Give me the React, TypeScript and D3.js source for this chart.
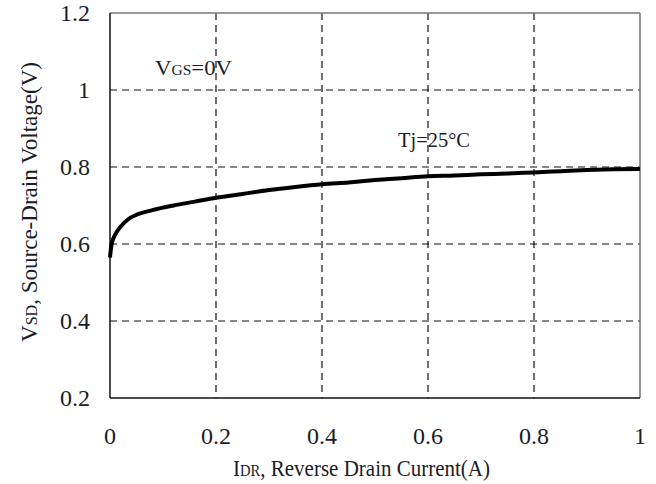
import * as d3 from 'd3';

// reverse drain current (A) vs source-drain voltage (V), Tj=25C
const currentA = [0, 0.003, 0.01, 0.02, 0.035, 0.05, 0.08, 0.12, 0.16, 0.2, 0.25, 0.3, 0.35, 0.4, 0.45, 0.5, 0.55, 0.6, 0.65, 0.7, 0.75, 0.8, 0.85, 0.9, 0.95, 1.0];
const vsdV = [0.565, 0.6, 0.625, 0.645, 0.665, 0.676, 0.688, 0.7, 0.71, 0.72, 0.73, 0.74, 0.748, 0.755, 0.76, 0.766, 0.771, 0.776, 0.778, 0.781, 0.783, 0.786, 0.789, 0.792, 0.794, 0.795];

const xTicks = [0, 0.2, 0.4, 0.6, 0.8, 1];
const yTicks = [0.2, 0.4, 0.6, 0.8, 1, 1.2];

const W = 656;
const H = 484;
const FONT = '"Liberation Serif", "DejaVu Serif", serif';
const INK = '#1c1c28';
const txt = { fontFamily: FONT };

export default function App() {
  const x = d3.scaleLinear().domain([0, 1]).range([110, 640]);
  const y = d3.scaleLinear().domain([0.2, 1.2]).range([398, 13]);

  const pts: [number, number][] = currentA.map((c, i) => [c, vsdV[i]]);
  const line = d3.line<[number, number]>()
    .x(d => x(d[0]))
    .y(d => y(d[1]))
    .curve(d3.curveMonotoneX);

  const [x0, x1] = x.range();
  const [y0, y1] = y.range();

  return (
    <svg width={W} height={H} style={{ position: 'absolute', left: 0, top: 0, background: '#fff' }}>
      {/* dashed grid */}
      {yTicks.filter(t => t > 0.2 && t < 1.2).map(t => (
        <line key={'gy' + t} x1={x0} x2={x1} y1={y(t)} y2={y(t)}
          stroke="#111" strokeWidth={1.2} strokeDasharray="7,5" />
      ))}
      {xTicks.filter(t => t > 0 && t < 1).map(t => (
        <line key={'gx' + t} x1={x(t)} x2={x(t)} y1={y1} y2={y0}
          stroke="#111" strokeWidth={1.2} strokeDasharray="7,5" />
      ))}

      {/* frame: top/right grey, left/bottom black */}
      <line x1={x0} x2={x1} y1={y1} y2={y1} stroke="#777" strokeWidth={1.5} />
      <line x1={x1} x2={x1} y1={y1} y2={y0} stroke="#777" strokeWidth={1.5} />
      <line x1={x0} x2={x0} y1={y1} y2={y0} stroke="#111" strokeWidth={1.5} />
      <line x1={x0} x2={x1} y1={y0} y2={y0} stroke="#111" strokeWidth={1.5} />

      {/* curve */}
      <path d={line(pts) || ''} fill="none" stroke="#000" strokeWidth={4} strokeLinejoin="round" />

      {/* tick labels */}
      {yTicks.map(t => (
        <text key={'ty' + t} x={90} y={y(t) + 8} textAnchor="end" fontSize={24} fill={INK} style={txt}>
          {String(t)}
        </text>
      ))}
      {xTicks.map(t => (
        <text key={'tx' + t} x={x(t)} y={444} textAnchor="middle" fontSize={24} fill={INK} style={txt}>
          {String(t)}
        </text>
      ))}

      {/* axis titles */}
      <text x={233} y={476} fontSize={23} fill={INK} style={txt} textLength={257} lengthAdjust="spacingAndGlyphs">
        I<tspan fontSize={16}>DR</tspan>, Reverse Drain Current(A)
      </text>
      <text transform="translate(37,202) rotate(-90)" textAnchor="middle" fontSize={23} fill={INK} style={txt}
        textLength={280} lengthAdjust="spacingAndGlyphs">
        V<tspan fontSize={16}>SD</tspan>, Source-Drain Voltage(V)
      </text>

      {/* annotations */}
      <text x={155} y={75} fontSize={22} fill={INK} style={txt} textLength={77} lengthAdjust="spacingAndGlyphs">
        V<tspan fontSize={15}>GS</tspan>=0V
      </text>
      <text x={398} y={147} fontSize={22} fill={INK} style={txt} textLength={72} lengthAdjust="spacingAndGlyphs">
        Tj=25°C
      </text>
    </svg>
  );
}
